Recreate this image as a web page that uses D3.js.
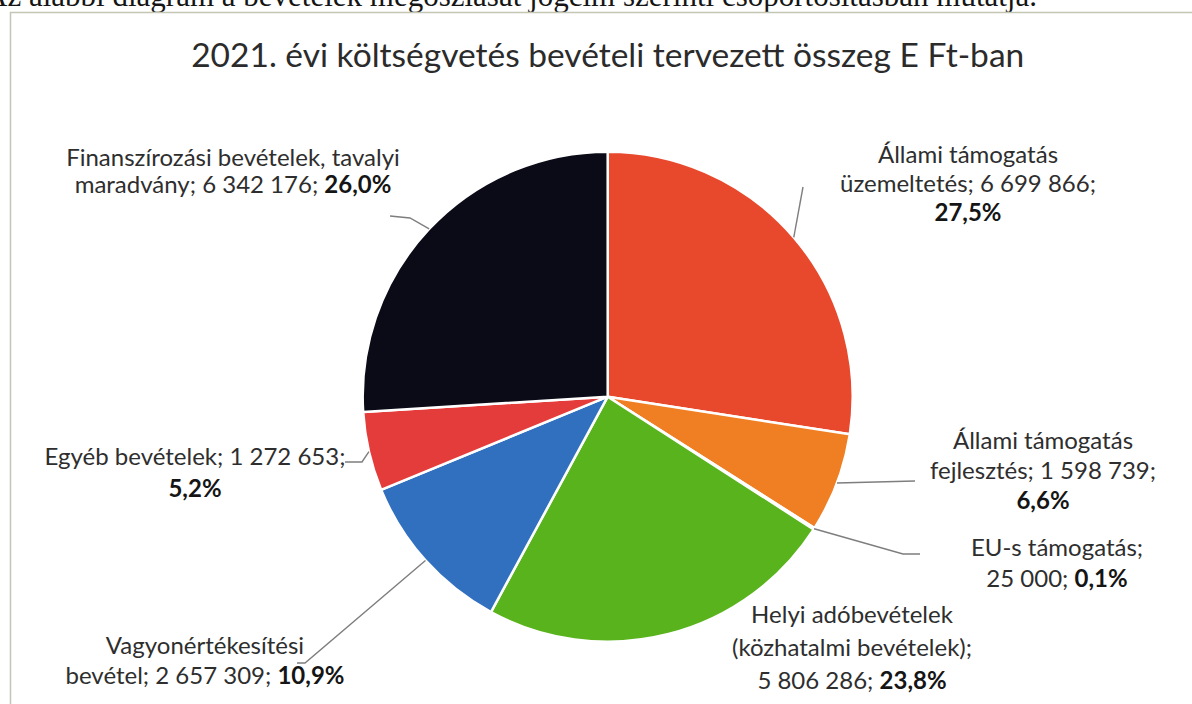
<!DOCTYPE html>
<html>
<head>
<meta charset="utf-8">
<script src="https://cdn.jsdelivr.net/npm/d3@7"></script>
<style>
  body { margin: 0; background: #fff; }
  svg { display: block; }
</style>
</head>
<body>
<div id="wrapper"></div>
<script>
// data (E Ft)
const categories = [
  "Állami támogatás üzemeltetés",
  "Állami támogatás fejlesztés",
  "EU-s támogatás",
  "Helyi adóbevételek (közhatalmi bevételek)",
  "Vagyonértékesítési bevétel",
  "Egyéb bevételek",
  "Finanszírozási bevételek, tavalyi maradvány"
];
const values = [6699866, 1598739, 25000, 5806286, 2657309, 1272653, 6342176];
const colors = ["#e8482c", "#f07e22", "#8a6bb0", "#59b31c", "#3070bf", "#e43b3b", "#0b0b18"];

const title = "2021. évi költségvetés bevételi tervezett összeg E Ft-ban";
const headerText = "Az alábbi diagram a bevételek megoszlását jogcím szerinti csoportosításban mutatja.";

// label wrapping, {v} = value, {p} = percent (bold)
const labelLines = [
  ["Állami támogatás", "üzemeltetés; {v};", "{p}"],
  ["Állami támogatás", "fejlesztés; {v};", "{p}"],
  ["EU-s támogatás;", "{v}; {p}"],
  ["Helyi adóbevételek", "(közhatalmi bevételek);", "{v}; {p}"],
  ["Vagyonértékesítési", "bevétel; {v}; {p}"],
  ["Egyéb bevételek; {v};", "{p}"],
  ["Finanszírozási bevételek, tavalyi", "maradvány; {v}; {p}"]
];

// where each label sits (center x, first baseline, line height) and its leader end, relative to the label
const labelLayout = [
  { x: 968, y: 163, lh: 29, leader: [[-165, 24]] },
  { x: 1043, y: 449, lh: 30, leader: [[-128, 32]] },
  { x: 1057, y: 556, lh: 31, leader: [[-154, -2], [-137, -2]] },
  { x: 852, y: 623, lh: 33, leader: null },
  { x: 205, y: 654, lh: 30, leader: [[100, 9], [92, 9]] },
  { x: 195, y: 465, lh: 32, leader: [[167, -3], [150, -3]] },
  { x: 233, y: 166, lh: 27, leader: [[177, 52], [157, 50]] }
];

const dimensions = { width: 1192, height: 704 };
const center = { x: 607.7, y: 396.7 };
const radius = 245;

const dataset = categories.map((c, i) => ({ category: c, value: values[i], color: colors[i], lines: labelLines[i], layout: labelLayout[i] }));
const total = d3.sum(values);

const huLocale = d3.formatLocale({ decimal: ",", thousands: " ", grouping: [3], currency: ["", ""] });
const fmtValue = huLocale.format(",d");
const fmtPct = huLocale.format(".1%");

const wrapper = d3.select("#wrapper")
  .append("svg")
  .attr("width", dimensions.width)
  .attr("height", dimensions.height);

// cut-off line of the page above the chart
wrapper.append("text")
  .attr("x", 1037)
  .attr("y", 6)
  .attr("text-anchor", "end")
  .style("font-family", "'Liberation Serif', serif")
  .style("font-size", "31px")
  .style("fill", "#151515")
  .text(headerText);

// chart frame
wrapper.append("rect")
  .attr("x", 10.5)
  .attr("y", 12.5)
  .attr("width", dimensions.width + 20)
  .attr("height", dimensions.height + 20)
  .attr("fill", "none")
  .attr("stroke", "#c4c6b4")
  .attr("stroke-width", 1.5);

wrapper.append("text")
  .attr("x", center.x)
  .attr("y", 67)
  .attr("text-anchor", "middle")
  .style("font-family", "Lato, sans-serif")
  .style("font-size", "33.5px")
  .style("fill", "#2b2b2b")
  .text(title);

const pie = d3.pie()
  .sort(null)
  .value(d => d.value);

const arcGenerator = d3.arc()
  .innerRadius(0)
  .outerRadius(radius);

const arcs = pie(dataset);

const bounds = wrapper.append("g")
  .attr("transform", `translate(${center.x},${center.y})`);

bounds.selectAll("path.slice")
  .data(arcs)
  .join("path")
  .attr("class", "slice")
  .attr("d", arcGenerator)
  .attr("fill", d => d.data.color)
  .attr("stroke", "#fff")
  .attr("stroke-width", 2.5)
  .attr("stroke-linejoin", "round");

// leader lines from the middle of each slice edge to its label
const lineGenerator = d3.line();
arcs.forEach(a => {
  const lay = a.data.layout;
  if (!lay.leader) return;
  const mid = (a.startAngle + a.endAngle) / 2;
  const start = [center.x + radius * Math.sin(mid), center.y - radius * Math.cos(mid)];
  const pts = [start].concat(lay.leader.map(p => [lay.x + p[0], lay.y + p[1]]));
  wrapper.append("path")
    .attr("d", lineGenerator(pts))
    .attr("fill", "none")
    .attr("stroke", "#7e7e7e")
    .attr("stroke-width", 1.4);
});

// data labels
const labels = wrapper.append("g")
  .style("font-family", "Lato, sans-serif")
  .style("font-size", "24px")
  .style("fill", "#2e2e2e");

dataset.forEach(d => {
  const t = labels.append("text")
    .attr("text-anchor", "middle");
  d.lines.forEach((line, li) => {
    const parts = line.split("{p}");
    const lineSpan = t.append("tspan")
      .attr("x", d.layout.x)
      .attr("y", d.layout.y + li * d.layout.lh);
    parts.forEach((part, pi) => {
      if (part) lineSpan.append("tspan").text(part.replace("{v}", fmtValue(d.value)));
      if (pi < parts.length - 1) {
        lineSpan.append("tspan")
          .style("font-weight", "bold")
          .style("fill", "#151515")
          .text(fmtPct(d.value / total));
      }
    });
  });
});
</script>
</body>
</html>
